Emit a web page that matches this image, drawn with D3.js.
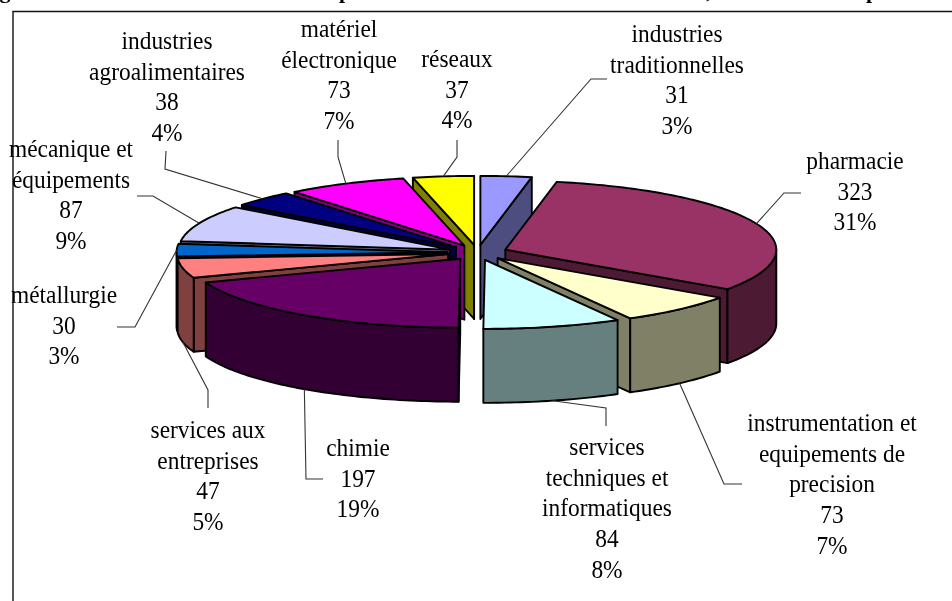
<!DOCTYPE html>
<html>
<head>
<meta charset="utf-8">
<title>Répartition par secteur</title>
<script src="https://cdn.jsdelivr.net/npm/d3@7"></script>
<style>
    html, body { margin: 0; padding: 0; background: #fff; overflow: hidden; }
    svg { display: block; filter: blur(0.35px); }
    text { font-family: "Liberation Serif", serif; fill: #000; }
    .label { font-size: 23.4px; text-anchor: middle; }
    .title-bit { font-size: 22px; font-weight: bold; text-anchor: middle; }
    .leader { fill: none; stroke: #333; stroke-width: 1.1; }
    .face { stroke: #000; stroke-width: 1.9; stroke-linejoin: round; }
</style>
</head>
<body>
<script>
"use strict";

// clockwise from 12 o'clock
const categories = [
    ["industries", "traditionnelles"],
    ["pharmacie"],
    ["instrumentation et", "equipements de", "precision"],
    ["services", "techniques et", "informatiques"],
    ["chimie"],
    ["services aux", "entreprises"],
    ["métallurgie"],
    ["mécanique et", "équipements"],
    ["industries", "agroalimentaires"],
    ["matériel", "électronique"],
    ["réseaux"]
];
const values = [31, 323, 73, 84, 197, 47, 30, 87, 38, 73, 37];
const percents = ["3%", "31%", "7%", "8%", "19%", "5%", "3%", "9%", "4%", "7%", "4%"];
const colors = ["#9999FF", "#993366", "#FFFFCC", "#CCFFFF", "#660066", "#FF8080",
    "#0066CC", "#CCCCFF", "#000080", "#FF00FF", "#FFFF00"];

// layout only: label centre and first baseline, then the leader's elbow and end
const labelX = [677, 855, 832, 607, 358, 208, 64, 71, 167, 339, 457];
const labelY = [42, 169, 431, 455, 456, 438, 303, 157, 49, 37, 67];
const leaderBends = [
    [[591, 79], [607, 79]],
    [[784, 193], [801, 193]],
    [[724, 484], [742, 484]],
    [[606, 408], [606, 426]],
    [[306, 479], [323, 479]],
    [[208, 390], [208, 408]],
    [[135, 327], [117, 327]],
    [[153, 196], [137, 196]],
    [[165, 169], [166, 151]],
    [[338, 157], [338, 140]],
    [[457, 157], [457, 140]]
];

// only the bottoms of the page title's letters survive in the crop
const titleBits = ["g", "p", ",", "p"];
const titleX = [5, 345, 709, 872];

const WIDTH = 952, HEIGHT = 601;
const CX = 477.5, CY = 252.5;
const RX = 271, RY = 69, DEPTH = 74;
const EXPLODE_X = 30, EXPLODE_Y = 7.6;
const LINE_HEIGHT = 30.7;
const TEXT_STRETCH = 1.08; // the source picture is a bit taller than wide

const svg = d3.select("body").append("svg")
    .attr("width", WIDTH)
    .attr("height", HEIGHT);

svg.selectAll(".title-bit")
    .data(titleBits)
    .enter()
    .append("text")
    .attr("class", "title-bit")
    .attr("x", function (d, i) { return titleX[i]; })
    .attr("y", -2)
    .text(function (d) { return d; });

svg.append("path")
    .attr("d", "M13,601V11.5H952")
    .attr("fill", "none")
    .attr("stroke", "#111")
    .attr("stroke-width", 1.4);

const pie = d3.pie().sort(null).value(function (d) { return d; });
const slices = pie(values).map(function (s, i) {
    s.index = i;
    s.mid = (s.startAngle + s.endAngle) / 2;
    s.apexX = CX + EXPLODE_X * Math.sin(s.mid);
    s.apexY = CY - EXPLODE_Y * Math.cos(s.mid);
    s.fill = colors[i];
    const c = d3.rgb(colors[i]);
    s.side = d3.rgb(c.r / 2, c.g / 2, c.b / 2).formatHex();
    return s;
});

function rimX(s, a) {
    return s.apexX + RX * Math.sin(a);
}

function rimY(s, a) {
    return s.apexY - RY * Math.cos(a);
}

function rimPoints(s, a0, a1, dy) {
    const n = Math.max(2, Math.ceil((a1 - a0) / 0.02));
    return d3.range(n + 1).map(function (k) {
        const a = a0 + (a1 - a0) * k / n;
        return [rimX(s, a), rimY(s, a) + dy];
    });
}

const line = d3.line();

function wallPath(s, a) {
    return line([
        [s.apexX, s.apexY],
        [rimX(s, a), rimY(s, a)],
        [rimX(s, a), rimY(s, a) + DEPTH],
        [s.apexX, s.apexY + DEPTH]
    ]) + "Z";
}

function outerPath(s, a0, a1) {
    const top = rimPoints(s, a0, a1, 0);
    const bottom = rimPoints(s, a0, a1, DEPTH).reverse();
    return line(top.concat(bottom)) + "Z";
}

function topPath(s) {
    return line([[s.apexX, s.apexY]].concat(rimPoints(s, s.startAngle, s.endAngle, 0))) + "Z";
}

// back slices first, front ones paint over them
const order = slices.slice().sort(function (a, b) {
    return Math.cos(b.mid) - Math.cos(a.mid);
});

const pieGroup = svg.append("g");
order.forEach(function (s) {
    const g = pieGroup.append("g").attr("class", "slice");
    if (Math.sin(s.startAngle) < 0) {
        g.append("path").attr("class", "face").attr("fill", s.side).attr("d", wallPath(s, s.startAngle));
    }
    if (Math.sin(s.endAngle) > 0) {
        g.append("path").attr("class", "face").attr("fill", s.side).attr("d", wallPath(s, s.endAngle));
    }
    const a0 = Math.max(s.startAngle, Math.PI / 2);
    const a1 = Math.min(s.endAngle, Math.PI * 1.5);
    if (a1 > a0) {
        g.append("path").attr("class", "face").attr("fill", s.side).attr("d", outerPath(s, a0, a1));
    }
    g.append("path").attr("class", "face").attr("fill", s.fill).attr("d", topPath(s));
});

svg.selectAll(".leader")
    .data(slices)
    .enter()
    .append("path")
    .attr("class", "leader")
    .attr("d", function (s) {
        const front = Math.cos(s.mid) < 0;
        const start = [rimX(s, s.mid), rimY(s, s.mid) + (front ? DEPTH : 0)];
        return line([start].concat(leaderBends[s.index]));
    });

const labels = svg.selectAll(".label-group")
    .data(slices)
    .enter()
    .append("g")
    .attr("class", "label-group");

labels.each(function (s) {
    const rows = categories[s.index].concat([String(s.value), percents[s.index]]);
    d3.select(this).selectAll("text")
        .data(rows)
        .enter()
        .append("text")
        .attr("class", "label")
        .attr("transform", function (d, k) {
            const y = labelY[s.index] + k * LINE_HEIGHT;
            return "translate(" + labelX[s.index] + "," + y + ") scale(1," + TEXT_STRETCH + ")";
        })
        .text(function (d) { return d; });
});
</script>
</body>
</html>
